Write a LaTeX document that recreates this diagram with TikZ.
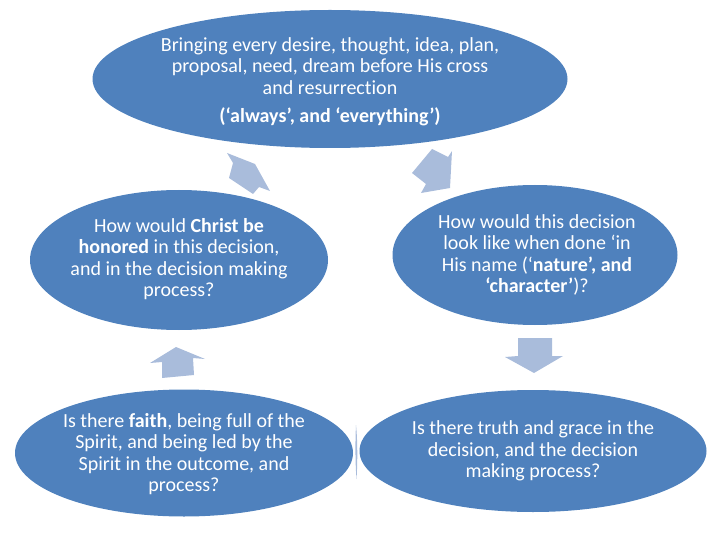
\documentclass[tikz,border=0pt]{standalone}
\usepackage{fontspec}
\setmainfont{Carlito}[Ligatures=NoCommon]
\usetikzlibrary{shapes.geometric}
\definecolor{ellblue}{HTML}{4F81BD}
\definecolor{arrblue}{HTML}{A9BCDB}
\tikzset{
  ell/.style={ellipse, fill=ellblue, draw=none, inner sep=0pt},
  txt/.style={text=white, align=center, font=\fontsize{20}{21.5}\selectfont, inner sep=0pt},
  blockarrow/.style={fill=arrblue, draw=none}
}
\begin{document}
\begin{tikzpicture}[x=1pt,y=-1pt]
\useasboundingbox (0,0) rectangle (720,540);
% ellipses
\node[ell, minimum width=475pt, minimum height=138pt] (top) at (330,79) {};
\node[ell, minimum width=298pt, minimum height=140pt] (ml) at (179,260) {};
\node[ell, minimum width=285pt, minimum height=140pt] (mr) at (535,255) {};
\node[ell, minimum width=338pt, minimum height=127pt] (bl) at (184,453) {};
\node[ell, minimum width=347pt, minimum height=122pt] (br) at (533,451) {};
% texts
\node[txt] (toptxt) at (330,66) {Bringing every desire, thought, idea, plan,\\proposal, need, dream before His cross\\and resurrection};
\node[txt] (topbold) at (330,117) {\textbf{(‘always’, and ‘everything’)}};
\node[txt] (mltxt) at (179,259) {How would \textbf{Christ be}\\\textbf{honored} in this decision,\\and in the decision making\\process?};
\node[txt] (mrtxt) at (537,255) {How would this decision\\look like when done ‘in\\His name (‘\textbf{nature’, and}\\\textbf{‘character’})?};
\node[txt] (bltxt) at (184,454) {Is there \textbf{faith}, being full of the\\Spirit, and being led by the\\Spirit in the outcome, and\\process?};
\node[txt] (brtxt) at (533,451) {Is there truth and grace in the\\decision, and the decision\\making process?};
% block arrows
\fill[blockarrow] (227,153) -- (255,164) -- (270,191) -- (259,187) -- (253,194) -- (229,178) -- (233,163) -- cycle;
\fill[blockarrow] (432,149) -- (448,157) -- (452,151) -- (450,188) -- (421,193) -- (426,184) -- (412,173) -- cycle;
\fill[blockarrow] (518,338) -- (552,338) -- (552,356) -- (563,356) -- (534,373) -- (505,357) -- (518,356) -- cycle;
\fill[blockarrow] (176,347) -- (205,359) -- (193,358) -- (194,375) -- (162,378) -- (162,362) -- (150,363) -- cycle;
\fill[blockarrow] (356,425) .. controls (357.6,440) and (357.6,463) .. (356.5,479) .. controls (355.2,463) and (355.2,440) .. cycle;
\end{tikzpicture}
\end{document}
